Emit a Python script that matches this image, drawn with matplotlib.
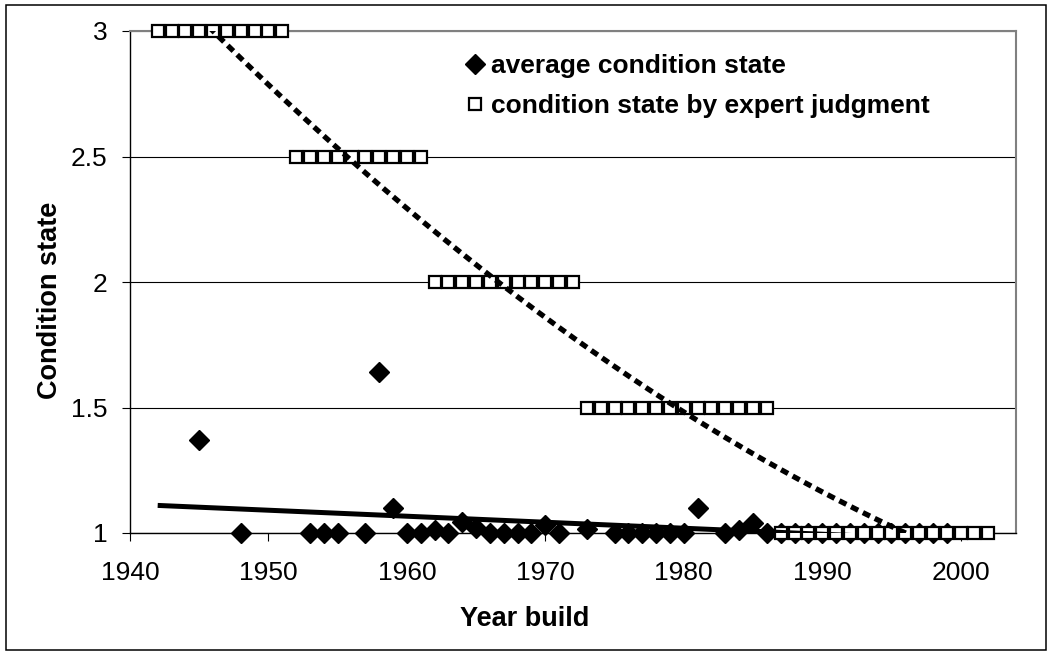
import numpy as np
import matplotlib
matplotlib.use("Agg")
import matplotlib.pyplot as plt
from matplotlib.lines import Line2D
from matplotlib.patches import Rectangle

plt.rcParams["font.family"] = ["Liberation Sans", "DejaVu Sans"]

# average condition state per building year (visible diamonds)
avg_years = [1945, 1948, 1953, 1954, 1955, 1957, 1958, 1959, 1960, 1961,
             1962, 1963, 1964, 1965, 1966, 1967, 1968, 1969, 1970, 1971,
             1973, 1975, 1976, 1977, 1978, 1979, 1980, 1981, 1983, 1984,
             1985, 1986]
avg_state = [1.37, 1.0, 1.0, 1.0, 1.0, 1.0, 1.64, 1.10, 1.0, 1.0,
             1.01, 1.0, 1.045, 1.02, 1.0, 1.0, 1.0, 1.0, 1.03, 1.0,
             1.015, 1.0, 1.0, 1.0, 1.0, 1.0, 1.0, 1.10, 1.0, 1.01,
             1.04, 1.0]
# diamonds sitting under the expert squares (only their tips show)
hidden_years = [1987, 1988, 1989, 1990, 1991, 1992, 1993, 1994, 1995, 1996,
                1997, 1998, 1999]
hidden_state = [1.0, 1.0, 1.0, 1.0, 1.0, 1.0, 1.0, 1.0, 1.0, 1.0,
                1.0, 1.0, 1.0]

# condition state by expert judgment, one square per year
expert_years = [1942, 1943, 1944, 1945, 1946, 1947, 1948, 1949, 1950, 1951,
                1952, 1953, 1954, 1955, 1956, 1957, 1958, 1959, 1960, 1961,
                1962, 1963, 1964, 1965, 1966, 1967, 1968, 1969, 1970, 1971, 1972,
                1973, 1974, 1975, 1976, 1977, 1978, 1979, 1980, 1981, 1982,
                1983, 1984, 1985, 1986,
                1987, 1988, 1989, 1990, 1991, 1992, 1993, 1994, 1995, 1996,
                1997, 1998, 1999, 2000, 2001, 2002]
expert_state = [3, 3, 3, 3, 3, 3, 3, 3, 3, 3,
                2.5, 2.5, 2.5, 2.5, 2.5, 2.5, 2.5, 2.5, 2.5, 2.5,
                2, 2, 2, 2, 2, 2, 2, 2, 2, 2, 2,
                1.5, 1.5, 1.5, 1.5, 1.5, 1.5, 1.5, 1.5, 1.5, 1.5,
                1.5, 1.5, 1.5, 1.5,
                1, 1, 1, 1, 1, 1, 1, 1, 1, 1,
                1, 1, 1, 1, 1, 1]

lin_trend_span = [1942, 1999]

x_ticks = [1940, 1950, 1960, 1970, 1980, 1990, 2000]
y_ticks = [1, 1.5, 2, 2.5, 3]
y_tick_labels = ["1", "1.5", "2", "2.5", "3"]

W, H = 1048, 655
fig = plt.figure(figsize=(W / 100, H / 100), dpi=100)
ax = fig.add_axes([130 / W, 1 - 533 / H, 886 / W, 502 / H])

# data
ax.plot(hidden_years, hidden_state, "D", color="black", ms=10, zorder=3, clip_on=False)
ax.plot(avg_years, avg_state, "D", color="black", ms=10, zorder=3, clip_on=False)
ax.plot(expert_years, expert_state, "s", mfc="white", mec="black", mew=1.6, ms=8.9,
        zorder=4, clip_on=False)

# trendlines
all_years = avg_years + hidden_years
all_state = avg_state + hidden_state
lin = np.polyfit(all_years, all_state, 1)
xl = np.linspace(lin_trend_span[0], lin_trend_span[1], 200)
ax.plot(xl, np.polyval(lin, xl), color="black", lw=3.6, solid_capstyle="butt", zorder=5)

quad = np.polyfit(expert_years, expert_state, 2)
xq = np.linspace(min(expert_years), max(expert_years), 400)
ax.plot(xq, np.polyval(quad, xq), color="black", lw=3.8, ls=(0, (1.5, 1.0)),
        dash_capstyle="butt", zorder=5)

ax.set_xlim(1940, 2004)
ax.set_ylim(1, 3)
ax.set_xticks(x_ticks)
ax.set_xticklabels([str(t) for t in x_ticks])
ax.set_yticks(y_ticks)
ax.set_yticklabels(y_tick_labels)
ax.tick_params(direction="out", length=5.8, width=0.8, colors="black", labelsize=19)
ax.tick_params(axis="x", pad=14)
ax.tick_params(axis="y", pad=10.5)

ax.set_axisbelow(True)
ax.yaxis.grid(True, color="black", lw=0.8)
for s in ["top", "right"]:
    ax.spines[s].set_color("#808080")
    ax.spines[s].set_linewidth(1.5)
for s in ["left", "bottom"]:
    ax.spines[s].set_color("black")
    ax.spines[s].set_linewidth(1.0)

ax.set_xlabel("Year build", fontsize=19.5, fontweight="bold", va="center")
ax.xaxis.set_label_coords((525 - 130) / 886, (533 - 619) / 502)
ax.set_ylabel("Condition state", fontsize=19.5, fontweight="bold", va="center")
ax.yaxis.set_label_coords((50 - 130) / 886, (533 - 300) / 502)

handles = [
    Line2D([], [], marker="D", ls="none", color="black", ms=10),
    Line2D([], [], marker="s", ls="none", mfc="white", mec="black", mew=1.6, ms=8),
]
labels = ["average condition state", "condition state by expert judgment"]
fig.legend(handles, labels, loc="upper left", bbox_to_anchor=(467 / W, 1 - 54 / H),
           frameon=False, borderpad=0, borderaxespad=0, handlelength=0.6,
           handletextpad=0.3, labelspacing=0.62,
           prop={"weight": "bold", "size": 19})

# outer chart border
fig.add_artist(Rectangle((6 / W, 5 / H), (1046 - 6) / W, (650 - 5) / H,
                         transform=fig.transFigure, fill=False, ec="black", lw=1.1))

fig.savefig("out.png", dpi=100)
